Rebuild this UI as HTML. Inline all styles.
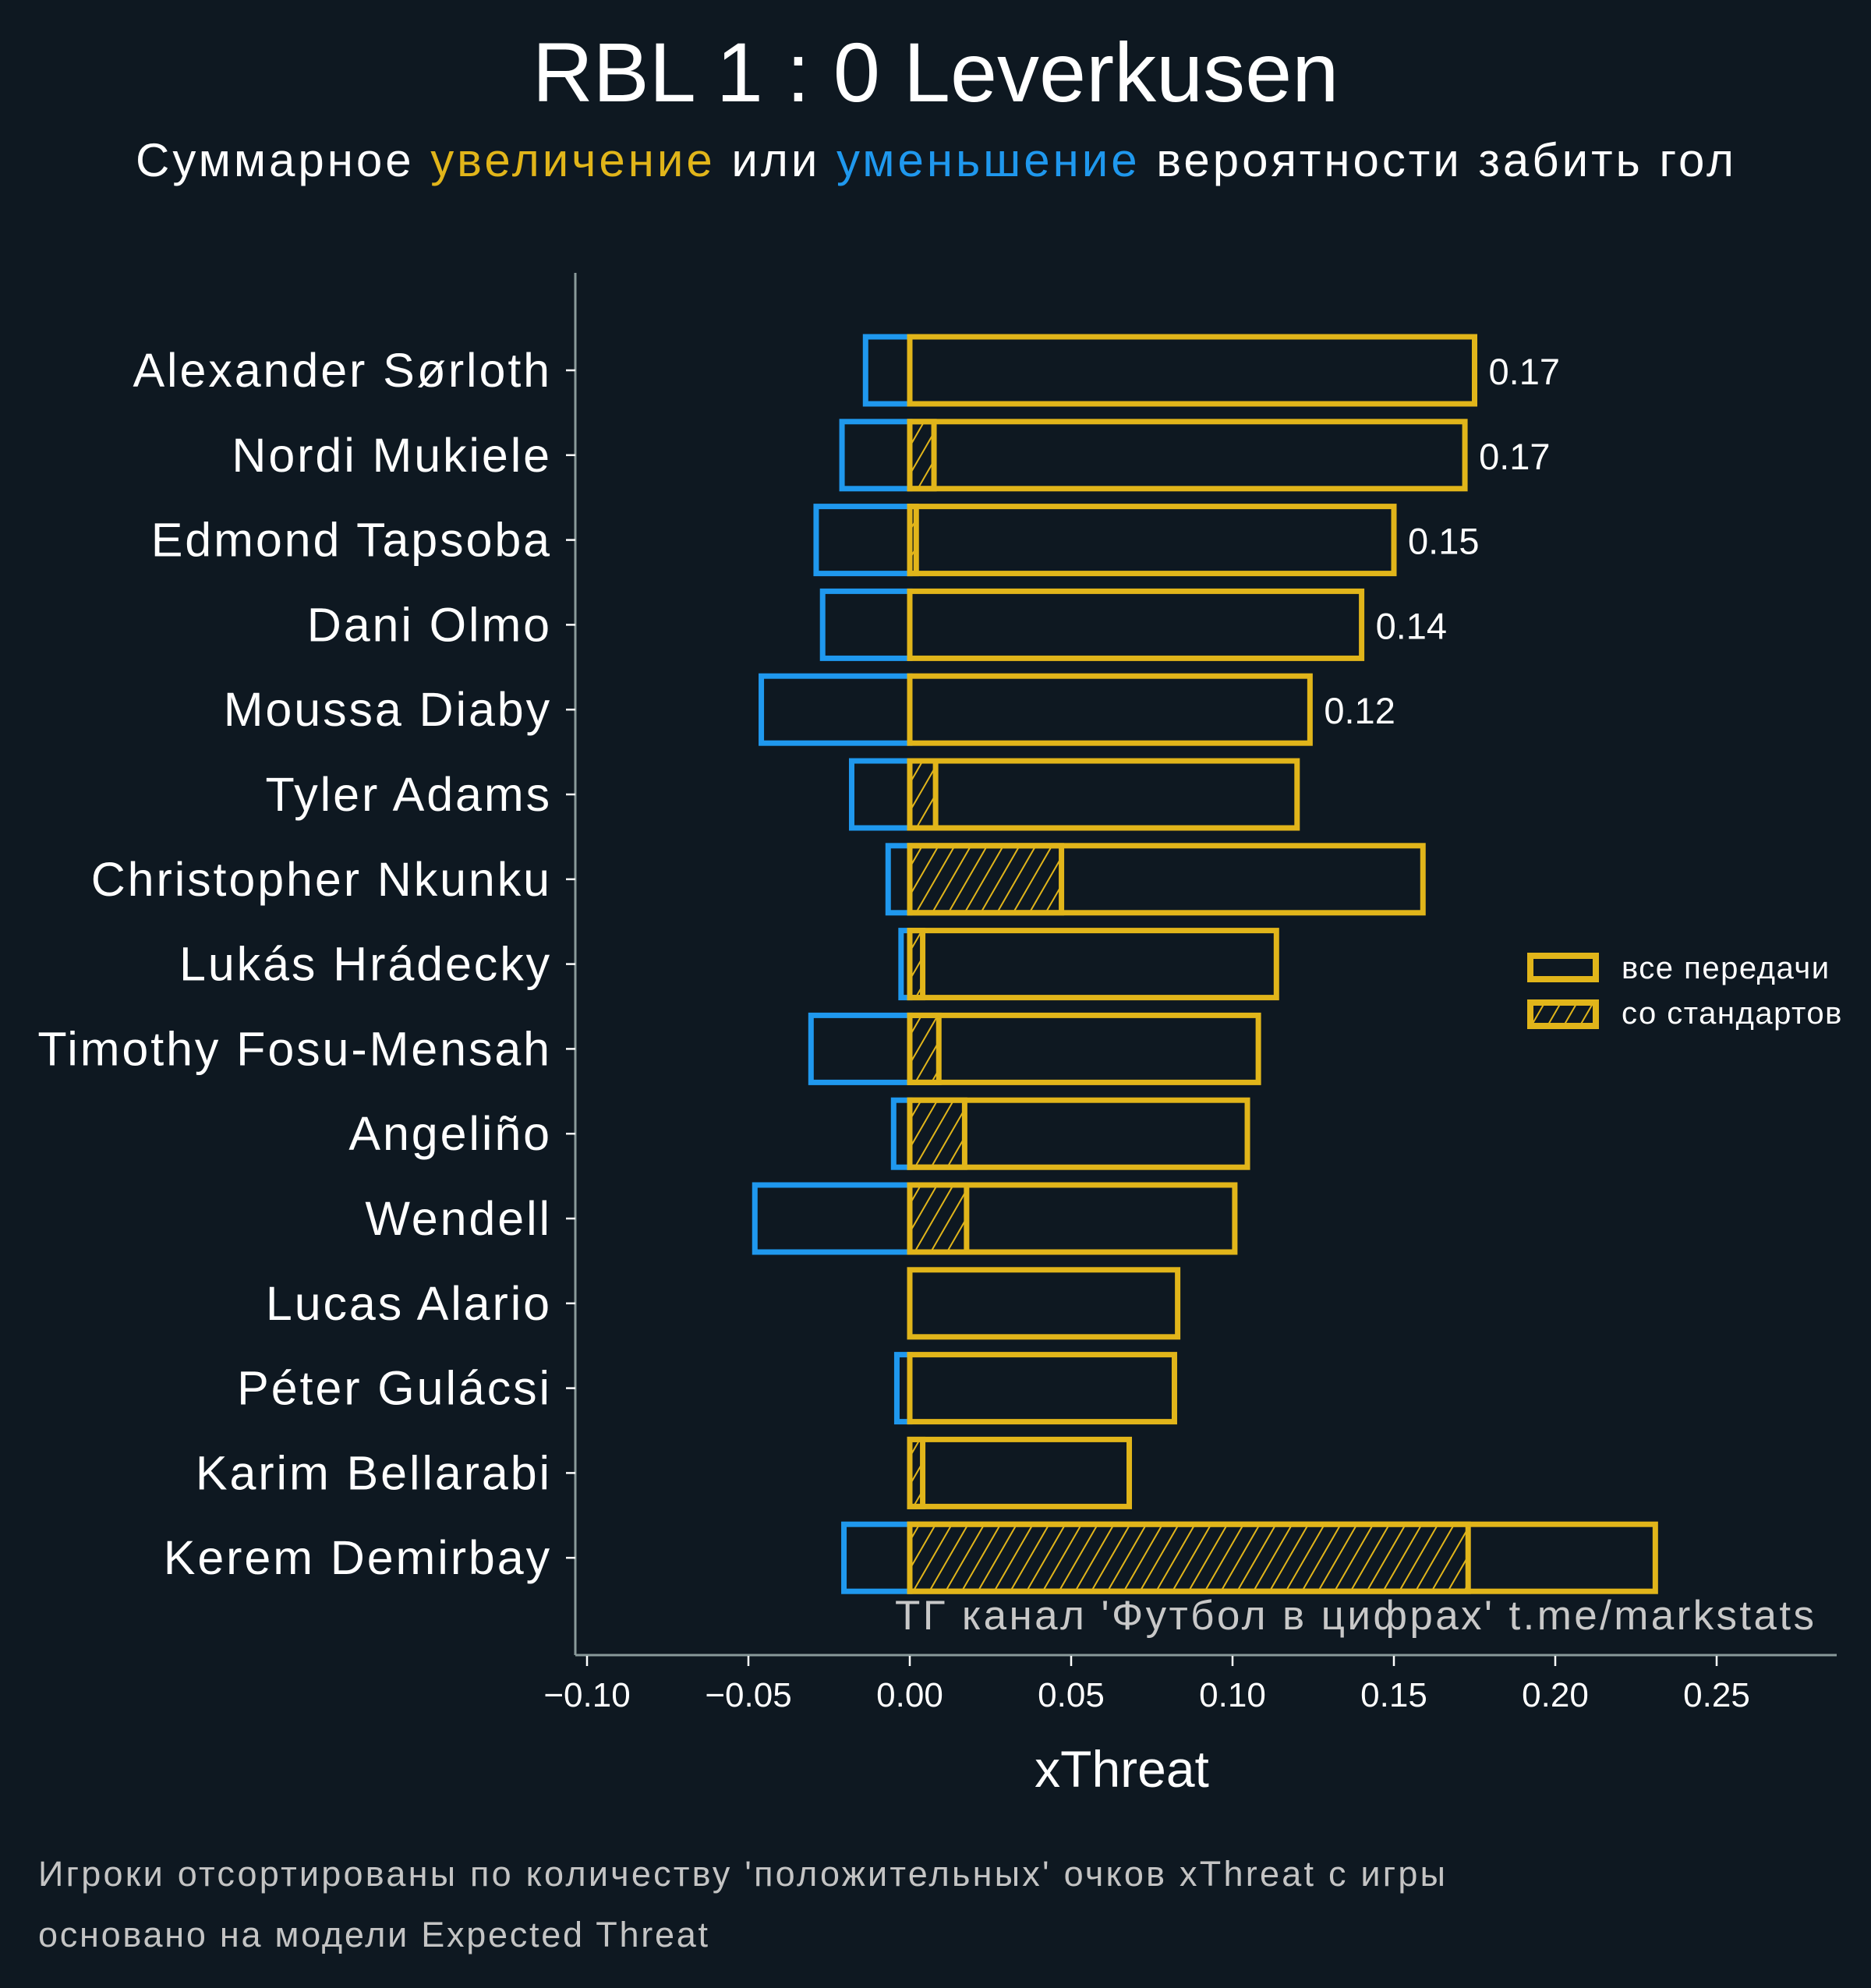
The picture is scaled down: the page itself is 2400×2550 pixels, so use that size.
<!DOCTYPE html>
<html><head><meta charset="utf-8">
<style>
html,body{margin:0;padding:0;background:#0e1821;}
svg{display:block;font-family:"Liberation Sans",sans-serif;}
</style></head>
<body>
<svg id="chart" width="2400" height="2550" viewBox="0 0 2400 2550" xmlns="http://www.w3.org/2000/svg">
<defs>
<pattern id="hatch" patternUnits="userSpaceOnUse" width="18" height="18" patternTransform="rotate(30)">
<line x1="0" y1="0" x2="0" y2="18" stroke="#e1b51a" stroke-width="4"/>
</pattern>
</defs>
<rect x="0" y="0" width="2400" height="2550" fill="#0e1821"/>
<text x="1200" y="130" text-anchor="middle" font-size="108" fill="#ffffff">RBL 1 : 0 Leverkusen</text>
<text x="174" y="226" textLength="2050" lengthAdjust="spacing" font-size="60" fill="#ffffff">Суммарное <tspan fill="#e1b51a">увеличение</tspan> или <tspan fill="#1f98ee">уменьшение</tspan> вероятности забить гол</text>
<g id="plot"></g>
<text x="1148" y="2090" textLength="1179" lengthAdjust="spacing" font-size="53" fill="#c8c8c8">ТГ канал 'Футбол в цифрах'  t.me/markstats</text>
<text x="1439" y="2292" text-anchor="middle" font-size="66" fill="#ffffff">xThreat</text>
<text x="49" y="2419" textLength="1805" lengthAdjust="spacing" font-size="45" fill="#c4c4c4">Игроки отсортированы по количеству 'положительных' очков xThreat с игры</text>
<text x="49" y="2497" textLength="859" lengthAdjust="spacing" font-size="45" fill="#c4c4c4">основано на модели Expected Threat</text>
<g>
<rect x="1963" y="1226" width="84" height="30" fill="#0e1821" stroke="#e1b51a" stroke-width="8"/>
<text x="2080" y="1255" font-size="40" letter-spacing="1.5" fill="#ffffff">все передачи</text>
<rect x="1963" y="1286" width="84" height="30" fill="url(#hatch)" stroke="#e1b51a" stroke-width="8"/>
<text x="2080" y="1313" font-size="40" letter-spacing="1.5" fill="#ffffff">со стандартов</text>
</g>
</svg>
<script>
const players = ["Alexander Sørloth","Nordi Mukiele","Edmond Tapsoba","Dani Olmo","Moussa Diaby","Tyler Adams","Christopher Nkunku","Lukás Hrádecky","Timothy Fosu-Mensah","Angeliño","Wendell","Lucas Alario","Péter Gulácsi","Karim Bellarabi","Kerem Demirbay"];
const positiveValues = [0.175,0.172,0.150,0.140,0.124,0.120,0.159,0.1136,0.108,0.1046,0.1007,0.083,0.082,0.068,0.231];
const negativeValues = [-0.0137,-0.021,-0.029,-0.027,-0.046,-0.018,-0.0067,-0.0027,-0.0306,-0.005,-0.048,0,-0.004,0,-0.0204];
const setPieceValues = [0,0.0075,0.002,0,0,0.008,0.047,0.004,0.009,0.017,0.0176,0,0,0.004,0.173];
const valueLabels = ["0.17","0.17","0.15","0.14","0.12"];
const xTicks = [-0.10,-0.05,0.00,0.05,0.10,0.15,0.20,0.25];
const xTickLabels = ["\u22120.10","\u22120.05","0.00","0.05","0.10","0.15","0.20","0.25"];

const NS="http://www.w3.org/2000/svg";
const plot=document.getElementById('plot');
const x0=1167, unit=4140;
function xs(v){return x0+v*unit;}
const rowTop=475, rowStep=108.8;
function ys(i){return rowTop+i*rowStep;}
const barH=86;
function mk(tag,attrs){const e=document.createElementNS(NS,tag);for(const k in attrs)e.setAttribute(k,attrs[k]);plot.appendChild(e);return e;}

let s=mk('line',{x1:738,y1:350,x2:738,y2:2123,stroke:'#8a9a9a','stroke-width':3});


s=mk('line',{x1:738,y1:2123,x2:2356,y2:2123,stroke:'#8a9a9a','stroke-width':3});



xTicks.forEach((t,i)=>{
  const x=xs(t);
  const tk=mk('line',{x1:x,y1:2124,x2:x,y2:2137,stroke:'#ffffff','stroke-width':2.5});
  
  
  const tl=mk('text',{x:x,y:2189,'text-anchor':'middle','font-size':44,fill:'#ffffff'});
  tl.textContent=xTickLabels[i];
  
  
});

players.forEach((p,i)=>{
  const y=ys(i);
  const tk=mk('line',{x1:726,y1:y,x2:738,y2:y,stroke:'#ffffff','stroke-width':2.5});
  
  
  const lb=mk('text',{x:708,y:y+21,'text-anchor':'end','font-size':61,'letter-spacing':2.9,fill:'#ffffff'});
  lb.textContent=p;
  
  
  if(negativeValues[i]<0){
    const nx=xs(negativeValues[i]);
    const nb=mk('rect',{x:nx,y:y-barH/2,width:x0-nx,height:barH,fill:'none',stroke:'#1f98ee','stroke-width':7});
    
    
  }
  if(setPieceValues[i]>0){
    const hb=mk('rect',{x:x0,y:y-barH/2,width:xs(setPieceValues[i])-x0,height:barH,fill:'url(#hatch)',stroke:'#e1b51a','stroke-width':7});
    
    
  }
  const pb=mk('rect',{x:x0,y:y-barH/2,width:xs(positiveValues[i])-x0,height:barH,fill:'none',stroke:'#e1b51a','stroke-width':7});
  
  
  if(i<valueLabels.length){
    const vl=mk('text',{x:xs(positiveValues[i])+18,y:y+18,'font-size':47,fill:'#ffffff'});
    vl.textContent=valueLabels[i];
    
    
  }
});
</script>
</body></html>
